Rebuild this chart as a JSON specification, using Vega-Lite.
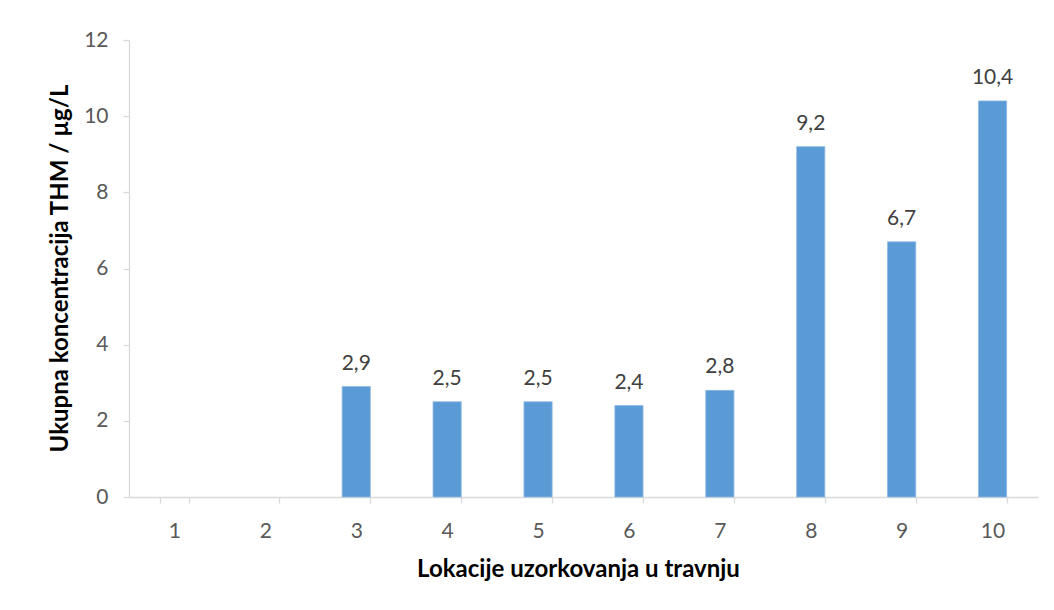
{
  "$schema": "https://vega.github.io/schema/vega-lite/v6.json",
  "width": 909,
  "height": 457,
  "autosize": "none",
  "padding": {"left": 129, "top": 40, "right": 16, "bottom": 113},
  "background": "white",
  "data": {
    "values": [
      {"lokacija": "1", "thm": null, "label": ""},
      {"lokacija": "2", "thm": null, "label": ""},
      {"lokacija": "3", "thm": 2.9, "label": "2,9"},
      {"lokacija": "4", "thm": 2.5, "label": "2,5"},
      {"lokacija": "5", "thm": 2.5, "label": "2,5"},
      {"lokacija": "6", "thm": 2.4, "label": "2,4"},
      {"lokacija": "7", "thm": 2.8, "label": "2,8"},
      {"lokacija": "8", "thm": 9.2, "label": "9,2"},
      {"lokacija": "9", "thm": 6.7, "label": "6,7"},
      {"lokacija": "10", "thm": 10.4, "label": "10,4"}
    ]
  },
  "encoding": {
    "x": {
      "field": "lokacija",
      "type": "ordinal",
      "sort": null,
      "scale": {"domain": ["1","2","3","4","5","6","7","8","9","10"], "paddingInner": 0.69, "paddingOuter": 0.345},
      "axis": {
        "title": "Lokacije uzorkovanja u travnju",
        "labelAngle": 0,
        "tickBand": "extent",
        "tickSize": 6,
        "labelPadding": 17,
        "titleX": 449,
        "titleY": 79,
        "titleBaseline": "alphabetic",
        "titleAnchor": "middle",
        "titleAlign": "center"
      }
    },
    "y": {
      "field": "thm",
      "type": "quantitative",
      "scale": {"domain": [0, 12]},
      "axis": {
        "title": "Ukupna koncentracija THM / µg/L",
        "values": [0, 2, 4, 6, 8, 10, 12],
        "grid": false,
        "tickSize": 6,
        "labelPadding": 15,
        "titleX": -69,
        "titleY": 228,
        "titleAngle": -90,
        "titleBaseline": "middle",
        "titleAlign": "center",
        "titleAnchor": "middle"
      }
    }
  },
  "layer": [
    {
      "mark": {"type": "bar", "color": "#5B9BD5", "stroke": "#8DB9E4", "strokeWidth": 0.8}
    },
    {
      "mark": {"type": "text", "baseline": "alphabetic", "dy": -17, "fontSize": 21, "font": "Lato", "color": "#404040"},
      "encoding": {"text": {"field": "label"}}
    }
  ],
  "config": {
    "view": {"stroke": null},
    "font": "Lato",
    "axis": {
      "domainColor": "#D9D9D9",
      "tickColor": "#D9D9D9",
      "domainWidth": 1.3,
      "tickWidth": 1.3,
      "labelColor": "#595959",
      "labelFontSize": 21,
      "labelFont": "Lato",
      "titleFont": "Lato",
      "titleFontSize": 24,
      "titleFontWeight": "bold",
      "titleColor": "#000000"
    }
  }
}
